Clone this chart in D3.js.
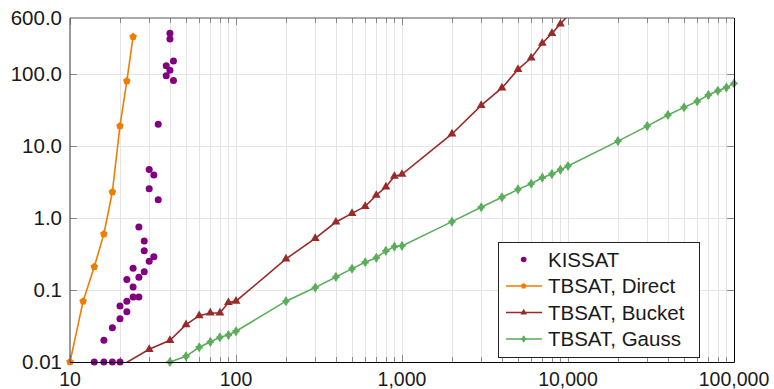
<!DOCTYPE html>
<html>
<head>
<meta charset="utf-8">
<script src="https://cdn.jsdelivr.net/npm/d3@7"></script>
<style>
  html, body { margin: 0; padding: 0; background: #fff; }
  svg { display: block; font-family: "Liberation Sans", Arial, sans-serif; }
</style>
</head>
<body>
<svg id="chart" width="774" height="389"></svg>
<script>
// ---- data ----
const xTicks = [10, 100, 1000, 10000, 100000];
const xTickLabels = ["10", "100", "1,000", "10,000", "100,000"];
const yTicks = [0.01, 0.1, 1, 10, 100, 600];
const yTickLabels = ["0.01", "0.1", "1.0", "10.0", "100.0", "600.0"];

const kissatX = [14,16,18,20,16,18,20,20,22,22,22,24,24,24,26,26,26,28,28,28,30,30,30,32,32,34,34,38,38,40,40,40,42,42];
const kissatY = [0.01,0.01,0.01,0.01,0.02,0.03,0.04,0.06,0.05,0.07,0.14,0.08,0.11,0.2,0.08,0.15,0.75,0.18,0.35,0.48,0.25,2.55,4.7,0.29,3.95,1.8,20,95,130,113,306,367,81,152];

const directX = [10,12,14,16,18,20,22,24];
const directY = [0.01,0.07,0.21,0.6,2.3,19,80,330];

const bucketX = [20,30,40,50,60,70,80,90,100,200,300,400,500,600,700,800,900,1000,2000,3000,4000,5000,6000,7000,8000,9000,10000];
const bucketY = [0.0087,0.015,0.02,0.033,0.044,0.048,0.048,0.067,0.07,0.27,0.52,0.88,1.16,1.45,2.07,2.7,3.8,4.05,14.7,36.7,64,116,167,267,367,495,650];

const gaussX = [40,50,60,70,80,90,100,200,300,400,500,600,700,800,900,1000,2000,3000,4000,5000,6000,7000,8000,9000,10000,20000,30000,40000,50000,60000,70000,80000,90000,100000];
const gaussY = [0.01,0.012,0.016,0.019,0.022,0.0237,0.0267,0.07,0.108,0.152,0.198,0.243,0.28,0.35,0.4,0.41,0.89,1.41,1.94,2.5,3.0,3.63,4.08,4.69,5.27,11.7,18.9,27,34.4,41.7,51,58.6,65,74];

const legendLabels = ["KISSAT", "TBSAT, Direct", "TBSAT, Bucket", "TBSAT, Gauss"];

// ---- layout ----
const L = 70, R = 734, T = 18, B = 362;
const colors = { kissat: "#800080", direct: "#f07c00", bucket: "#992a2a", gauss: "#5aad5a" };

const svg = d3.select("#chart");
const x = d3.scaleLog().domain([10, 100000]).range([L, R]);
const y = d3.scaleLog().domain([0.01, 600]).range([B, T]);

// minor x values
const xMinor = [];
for (let d = 10; d < 100000; d *= 10) for (let k = 2; k <= 9; k++) xMinor.push(d * k);

// grid
const grid = svg.append("g").attr("stroke", "#e4e4e4").attr("stroke-width", 1);
xMinor.concat(xTicks.slice(1, -1)).forEach(v => {
  const px = Math.round(x(v)) + 0.5;
  grid.append("line").attr("x1", px).attr("x2", px).attr("y1", T).attr("y2", B);
});
[0.1, 1, 10, 100].forEach(v => {
  const py = Math.round(y(v)) + 0.5;
  grid.append("line").attr("x1", L).attr("x2", R).attr("y1", py).attr("y2", py);
});

// ticks (inside)
const ticks = svg.append("g").attr("stroke", "#8a8a8a").attr("stroke-width", 1);
xMinor.forEach(v => {
  const px = Math.round(x(v)) + 0.5;
  ticks.append("line").attr("x1", px).attr("x2", px).attr("y1", B).attr("y2", B - 5);
  ticks.append("line").attr("x1", px).attr("x2", px).attr("y1", T).attr("y2", T + 5);
});
xTicks.forEach(v => {
  const px = Math.round(x(v)) + 0.5;
  ticks.append("line").attr("x1", px).attr("x2", px).attr("y1", B).attr("y2", B - 7);
  ticks.append("line").attr("x1", px).attr("x2", px).attr("y1", T).attr("y2", T + 7);
});
[0.1, 1, 10, 100].forEach(v => {
  const py = Math.round(y(v)) + 0.5;
  ticks.append("line").attr("x1", L).attr("x2", L + 7).attr("y1", py).attr("y2", py);
  ticks.append("line").attr("x1", R).attr("x2", R - 7).attr("y1", py).attr("y2", py);
});

// clip
svg.append("defs").append("clipPath").attr("id", "plotclip")
  .append("rect").attr("x", L).attr("y", T).attr("width", R - L).attr("height", B - T);

const inside = (xv, yv) => yv >= 0.0099 && yv <= 601 && xv >= 9.99 && xv <= 100001;

function series(xs, ys, color, symFn) {
  const pts = xs.map((v, i) => [v, ys[i]]);
  const line = d3.line().x(d => x(d[0])).y(d => y(d[1]));
  svg.append("path").attr("d", line(pts)).attr("fill", "none")
    .attr("stroke", color).attr("stroke-width", 1.6).attr("clip-path", "url(#plotclip)");
  const g = svg.append("g");
  pts.filter(d => inside(d[0], d[1])).forEach(d => {
    symFn(g, x(d[0]), y(d[1]), color);
  });
}

function pentagon(g, cx, cy, color, r = 4) {
  const pts = d3.range(5).map(i => {
    const a = -Math.PI / 2 + i * 2 * Math.PI / 5;
    return [cx + r * Math.cos(a), cy + r * Math.sin(a)];
  });
  g.append("polygon").attr("points", pts.map(p => p.join(",")).join(" ")).attr("fill", color);
}
function triangle(g, cx, cy, color) {
  g.append("path").attr("d", d3.symbol().type(d3.symbolTriangle).size(34)())
    .attr("transform", `translate(${cx},${cy})`).attr("fill", color);
}
function diamond(g, cx, cy, color) {
  g.append("path").attr("d", d3.symbol().type(d3.symbolDiamond).size(30)())
    .attr("transform", `translate(${cx},${cy})`).attr("fill", color);
  g.append("path").attr("d", d3.symbol().type(d3.symbolCross).size(28)())
    .attr("transform", `translate(${cx},${cy})`).attr("fill", color);
}

series(bucketX, bucketY, colors.bucket, triangle);
series(gaussX, gaussY, colors.gauss, diamond);
series(directX, directY, colors.direct, pentagon);

// kissat scatter
svg.append("g").selectAll("circle").data(kissatX.map((v, i) => [v, kissatY[i]]))
  .join("circle").attr("cx", d => x(d[0])).attr("cy", d => y(d[1])).attr("r", 3.5)
  .attr("fill", colors.kissat);

// axis frame
svg.append("line").attr("x1", L).attr("x2", L).attr("y1", T).attr("y2", B).attr("stroke", "#555").attr("stroke-width", 1.2);
svg.append("line").attr("x1", L).attr("x2", R).attr("y1", T).attr("y2", T).attr("stroke", "#555").attr("stroke-width", 1.2);
svg.append("line").attr("x1", L).attr("x2", R + 0.5).attr("y1", B + 0.5).attr("y2", B + 0.5).attr("stroke", "#000").attr("stroke-width", 1);
svg.append("line").attr("x1", R + 0.5).attr("x2", R + 0.5).attr("y1", T).attr("y2", B + 0.5).attr("stroke", "#000").attr("stroke-width", 1);

// tick labels
const labelColor = "#1a1a1a";
svg.append("g").selectAll("text").data(xTicks).join("text")
  .attr("x", d => x(d)).attr("y", 386)
  .attr("text-anchor", "middle").attr("font-size", 19.5).attr("fill", labelColor)
  .text((d, i) => xTickLabels[i]);
svg.append("g").selectAll("text").data(yTicks).join("text")
  .attr("x", 62).attr("y", d => y(d)).attr("dy", "0.35em")
  .attr("text-anchor", "end").attr("font-size", 20.5).attr("fill", labelColor)
  .text((d, i) => yTickLabels[i]);

// legend
const lg = svg.append("g");
lg.append("rect").attr("x", 498.5).attr("y", 242.5).attr("width", 201).attr("height", 115)
  .attr("fill", "#fff").attr("stroke", "#222").attr("stroke-width", 1);
const legendColors = [colors.kissat, colors.direct, colors.bucket, colors.gauss];
const legendSyms = [null, pentagon, triangle, diamond];
legendLabels.forEach((lab, i) => {
  const cy = 259.5 + i * 26.5;
  if (i === 0) {
    lg.append("circle").attr("cx", 523.7).attr("cy", cy).attr("r", 2.8).attr("fill", legendColors[i]);
  } else {
    lg.append("line").attr("x1", 506).attr("x2", 542).attr("y1", cy).attr("y2", cy)
      .attr("stroke", legendColors[i]).attr("stroke-width", 1.6);
    const g = lg.append("g").attr("transform", `translate(${523.7},${cy}) scale(0.75) translate(${-523.7},${-cy})`);
    legendSyms[i](g, 523.7, cy, legendColors[i]);
  }
  lg.append("text").attr("x", 548).attr("y", cy).attr("dy", "0.36em")
    .attr("font-size", 20.5).attr("fill", labelColor).text(lab);
});
</script>
</body>
</html>
